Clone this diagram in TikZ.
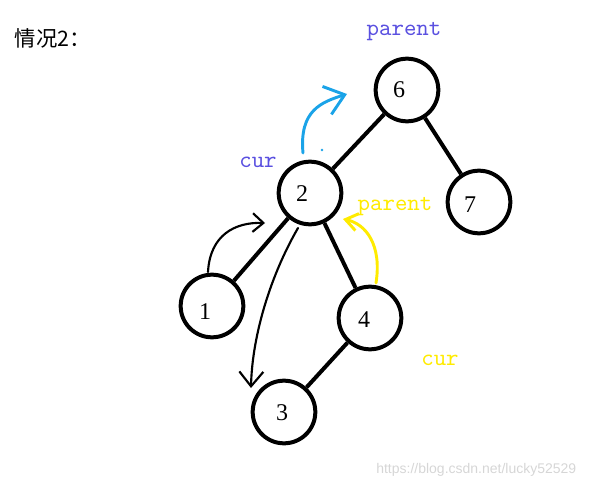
\documentclass[tikz,border=0pt]{standalone}
\usepackage{fontspec}
\newfontfamily\ptrfont[Extension=.otf]{lmmono10-regular}
\newfontfamily\cjk{Noto Sans CJK SC}
\newfontfamily\markfont{Liberation Sans}
\newfontfamily\digitfont{Liberation Serif}
\usetikzlibrary{arrows.meta}
\definecolor{labelblue}{HTML}{5A50E0}
\definecolor{penblue}{HTML}{1AA3E8}
\definecolor{penyellow}{HTML}{FFEB00}
\definecolor{marktext}{HTML}{D6D6D6}
\tikzset{
  >={Straight Barb[length=8pt,width=14pt]},
  tnode/.style={circle,draw,line width=3pt,minimum size=47pt,inner sep=0pt},
  digit/.style={inner sep=0pt,font=\digitfont\fontsize{18}{20}\selectfont},
  tedge/.style={line width=3pt},
  ptr/.style={font=\ptrfont\fontsize{17.8}{19}\selectfont},
  pen/.style={->,line width=1.6pt,line cap=round,line join=round},
}
\begin{document}
\begin{tikzpicture}[x=0.75pt,y=-0.75pt]
  \useasboundingbox (0,0) rectangle (590,489);
  \node[anchor=west,font=\cjk\fontsize{16}{18}\selectfont] (title) at (10,38) {情况2：};

  % tree
  \node[tnode] (n6) at (407,90) {};
  \node[tnode] (n7) at (479,202) {};
  \node[tnode] (n2) at (310,193) {};
  \node[tnode] (n1) at (212,306) {};
  \node[tnode] (n4) at (370,318) {};
  \node[tnode] (n3) at (284,412) {};
  \node[digit] (d6) at ([shift={(-8,0)}]n6) {6};
  \node[digit] (d7) at ([shift={(-9,3)}]n7) {7};
  \node[digit] (d2) at ([shift={(-8,1)}]n2) {2};
  \node[digit] (d1) at ([shift={(-7,6)}]n1) {1};
  \node[digit] (d4) at ([shift={(-6,2)}]n4) {4};
  \node[digit] (d3) at ([shift={(-2,1)}]n3) {3};
  \draw[tedge] (n6) -- (n2);
  \draw[tedge] (n6) -- (n7);
  \draw[tedge] (n2) -- (n1);
  \draw[tedge] (n2) -- (n4);
  \draw[tedge] (n4) -- (n3);

  % pointers
  \node[ptr,text=labelblue] (par6) at (404,32) {parent};
  \node[ptr,text=labelblue] (cur2) at (258,162) {cur};
  \node[ptr,text=penyellow] (par2) at (395,207) {parent};
  \node[ptr,text=penyellow] (cur4) at (440,360) {cur};

  % pen strokes
  \coordinate (bs) at (303,153);
  \coordinate (be) at (347,94);
  \coordinate (ks) at (208,272);
  \coordinate (ke) at (265,223);
  \coordinate (ds) at (298,228);
  \coordinate (de) at (251,388);
  \coordinate (ys) at (376,283);
  \coordinate (ye) at (343,219);
  \draw[pen,penblue,line width=2.2pt,-{Straight Barb[length=14pt,width=22pt]}]
    (bs) .. controls (299,110) and (322,102) .. (be);
  \fill[penblue] (322,150) circle (1pt);
  \draw[pen] (ks) .. controls (210,235) and (235,222) .. (ke);
  \draw[pen,-{Straight Barb[length=11pt,width=18pt]}]
    (ds) .. controls (268,280) and (252,340) .. (de);
  \draw[pen,penyellow,line width=2.2pt,-{Straight Barb[length=9pt,width=13pt]}]
    (ys) .. controls (382,245) and (366,224) .. (ye);

  \node[anchor=east,text=marktext,font=\markfont\fontsize{10.5}{12}\selectfont] (mark) at (581,470) {https://blog.csdn.net/lucky52529};
\end{tikzpicture}
\end{document}
